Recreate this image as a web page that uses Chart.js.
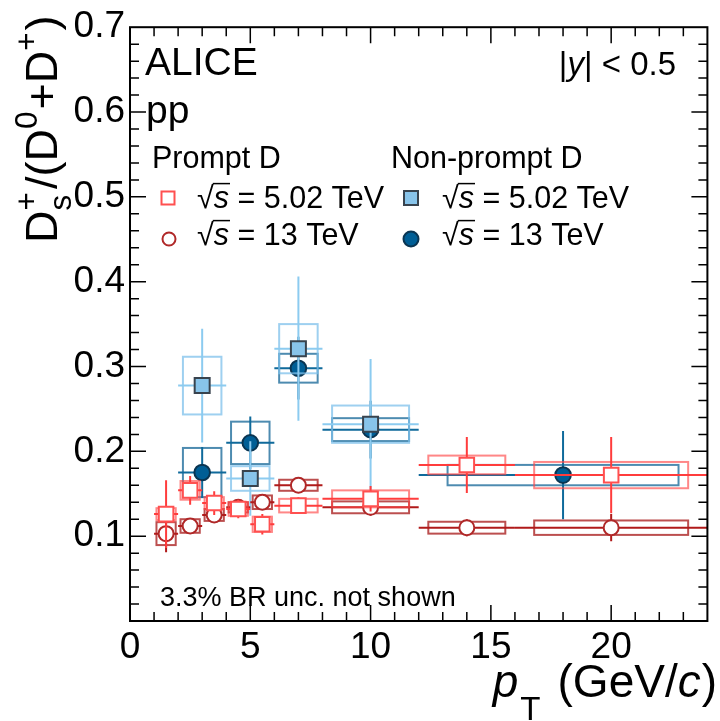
<!DOCTYPE html>
<html>
<head>
<meta charset="utf-8"/>
<title>Ds+/(D0+D+) vs pT</title>
<script src="https://cdn.jsdelivr.net/npm/chart.js@4.4.0/dist/chart.umd.min.js"></script>
<style>
  html, body { margin: 0; padding: 0; background: #fff; }
  #c { display: block; }
</style>
</head>
<body>
<canvas id="c" width="720" height="721"></canvas>
<script>
// pT bin edges (GeV/c)
const promptEdges    = [1, 2, 3, 4, 5, 6, 8, 12, 16, 24];
const nonpromptEdges = [2, 4, 6, 8, 12, 24];

// prompt D, sqrt(s) = 5.02 TeV
const prompt502      = [0.126, 0.154, 0.139, 0.132, 0.114, 0.136, 0.144, 0.184, 0.172];
const prompt502Stat  = [0.040, 0.017, 0.014, 0.011, 0.012, 0.010, 0.015, 0.033, 0.045];
const prompt502Syst  = [0.007, 0.011, 0.007, 0.008, 0.009, 0.008, 0.010, 0.011, 0.0155];

// prompt D, sqrt(s) = 13 TeV
const prompt13       = [0.103, 0.112, 0.125, 0.134, 0.140, 0.160, 0.134, 0.110, 0.110];
const prompt13Stat   = [0.022, 0.006, 0.008, 0.005, 0.006, 0.005, 0.010, 0.010, 0.016];
const prompt13Syst   = [0.0135, 0.008, 0.007, 0.006, 0.008, 0.0065, 0.007, 0.007, 0.0085];

// non-prompt D, sqrt(s) = 5.02 TeV (first four bins only)
const nonprompt502     = [0.2775, 0.168, 0.321, 0.232];
const nonprompt502Stat = [0.067, 0.044, 0.085, 0.077];
const nonprompt502Syst = [0.034, 0.0145, 0.029, 0.022];

// non-prompt D, sqrt(s) = 13 TeV
const nonprompt13     = [0.175, 0.210, 0.298, 0.2256, 0.172];
const nonprompt13Stat = [0.030, 0.031, 0.037, 0.034, 0.052];
const nonprompt13Syst = [0.029, 0.025, 0.017, 0.0135, 0.012];

const xTicks = [0, 5, 10, 15, 20];
const yTicks = [0.1, 0.2, 0.3, 0.4, 0.5, 0.6, 0.7];

const FONT = '"Liberation Sans", Arial, Helvetica, sans-serif';

const COL = {
  p502:  { stat: '#ff3c3c', box: 'rgba(255,70,70,0.65)',  edge: '#ff5050', fill: '#ffffff' },
  p13:   { stat: '#b01a1a', box: 'rgba(165,20,20,0.75)',  edge: '#b02828', fill: '#ffffff' },
  np502: { stat: '#8ccbf0', box: 'rgba(125,192,235,0.75)', edge: '#38434e', fill: '#88c4ea' },
  np13:  { stat: '#0f6a9b', box: 'rgba(18,100,150,0.75)',  edge: '#0a3552', fill: '#005e95' }
};

function series(edges, vals, stat, syst, col, style, radius) {
  const lo = [], hi = [], pts = [];
  vals.forEach((v, i) => {
    lo.push(edges[i]); hi.push(edges[i + 1]);
    pts.push({ x: (edges[i] + edges[i + 1]) / 2, y: v });
  });
  return {
    data: pts,
    unc: { lo, hi, stat, syst, col },
    pointStyle: style,
    pointRadius: radius,
    pointHoverRadius: radius,
    backgroundColor: col.fill,
    borderColor: col.edge,
    borderWidth: 2,
    showLine: false
  };
}

// systematic boxes (80% of bin width) and statistical bars, drawn under each dataset's markers
const errorBoxes = {
  id: 'errorBoxes',
  beforeDatasetDraw(chart, args) {
    const ds = chart.data.datasets[args.index];
    const u = ds.unc;
    const { ctx, chartArea: a, scales: { x, y } } = chart;
    ctx.save();
    ctx.beginPath();
    ctx.rect(a.left, a.top, a.right - a.left, a.bottom - a.top);
    ctx.clip();
    ctx.lineWidth = 2;
    ds.data.forEach((p, i) => {
      const hw = 0.4 * (u.hi[i] - u.lo[i]);
      const bx0 = x.getPixelForValue(p.x - hw), bx1 = x.getPixelForValue(p.x + hw);
      const by0 = y.getPixelForValue(p.y + u.syst[i]), by1 = y.getPixelForValue(p.y - u.syst[i]);
      ctx.strokeStyle = u.col.box;
      ctx.strokeRect(bx0, by0, bx1 - bx0, by1 - by0);
      const px = x.getPixelForValue(p.x), py = y.getPixelForValue(p.y);
      ctx.strokeStyle = u.col.stat;
      ctx.beginPath();
      ctx.moveTo(x.getPixelForValue(u.lo[i]), py);
      ctx.lineTo(x.getPixelForValue(u.hi[i]), py);
      ctx.moveTo(px, y.getPixelForValue(p.y + u.stat[i]));
      ctx.lineTo(px, y.getPixelForValue(p.y - u.stat[i]));
      ctx.stroke();
    });
    ctx.restore();
  }
};

// draw a run of text pieces (sub/superscripts, italics) left to right
function drawRuns(ctx, runs, x0, y0, base) {
  let x = x0, stackW = 0;
  runs.forEach(r => {
    if (r.gap) { x += r.gap; return; }
    const size = (r.scale || 1) * base;
    ctx.font = (r.italic ? 'italic ' : '') + size + 'px ' + FONT;
    const w = ctx.measureText(r.t).width;
    ctx.fillText(r.t, x, y0 + (r.dy || 0) * base);
    if (r.stack) { stackW = w; return; }
    x += Math.max(w, stackW);
    stackW = 0;
  });
  return x;
}

function sqrtS(ctx, x, y, size, rest) {
  ctx.font = size + 'px ' + FONT;
  ctx.fillText('\u221A', x, y);
  const rw = ctx.measureText('\u221A').width;
  ctx.font = 'italic ' + size + 'px ' + FONT;
  const sw = ctx.measureText('s').width;
  ctx.fillText('s', x + rw, y);
  ctx.lineWidth = 1.5;
  ctx.beginPath();
  ctx.moveTo(x + rw - 1, y - 0.80 * size);
  ctx.lineTo(x + rw + sw + 1, y - 0.80 * size);
  ctx.stroke();
  ctx.font = size + 'px ' + FONT;
  ctx.fillText(rest, x + rw + sw, y);
}

function marker(ctx, kind, x, y, r, col) {
  ctx.save();
  ctx.lineWidth = 2;
  ctx.fillStyle = col.fill;
  ctx.strokeStyle = col.edge;
  ctx.beginPath();
  if (kind === 'rect') ctx.rect(x - r, y - r, 2 * r, 2 * r);
  else ctx.arc(x, y, r, 0, 2 * Math.PI);
  ctx.fill();
  ctx.stroke();
  ctx.restore();
}

const frameAndText = {
  id: 'frameAndText',
  afterDraw(chart) {
    const { ctx, chartArea: a, scales: { x, y } } = chart;
    ctx.save();
    ctx.strokeStyle = '#000';
    ctx.fillStyle = '#000';
    ctx.lineWidth = 2;
    ctx.strokeRect(a.left, a.top, a.right - a.left, a.bottom - a.top);

    // ticks on all four sides
    ctx.lineWidth = 1.5;
    ctx.beginPath();
    for (let v = 1; v < 24; v++) {
      const px = x.getPixelForValue(v);
      const len = v % 5 === 0 ? 16 : 9;
      ctx.moveTo(px, a.bottom); ctx.lineTo(px, a.bottom - len);
      ctx.moveTo(px, a.top); ctx.lineTo(px, a.top + len);
    }
    for (let k = 1; k < 35; k++) {
      const py = y.getPixelForValue(k * 0.02);
      const len = k % 5 === 0 ? 16 : 9;
      ctx.moveTo(a.left, py); ctx.lineTo(a.left + len, py);
      ctx.moveTo(a.right, py); ctx.lineTo(a.right - len, py);
    }
    ctx.stroke();

    ctx.textBaseline = 'alphabetic';
    ctx.textAlign = 'left';

    ctx.font = '39px ' + FONT;
    ctx.fillText('ALICE', 145, 75);
    ctx.fillText('pp', 146, 123);

    // |y| < 0.5
    const rs = 33;
    ctx.font = rs + 'px ' + FONT;
    const w1 = ctx.measureText('|').width;
    ctx.font = 'italic ' + rs + 'px ' + FONT;
    const w2 = ctx.measureText('y').width;
    ctx.font = rs + 'px ' + FONT;
    const w3 = ctx.measureText('| < 0.5').width;
    let tx = 676 - (w1 + w2 + w3);
    drawRuns(ctx, [{ t: '|' }, { t: 'y', italic: true }, { t: '| < 0.5' }], tx, 75, rs);

    // legend
    const lf = 30.5;
    ctx.font = lf + 'px ' + FONT;
    ctx.fillText('Prompt D', 152, 168);
    ctx.fillText('Non-prompt D', 391, 168);
    sqrtS(ctx, 197, 208, lf, ' = 5.02 TeV');
    sqrtS(ctx, 197, 245, lf, ' = 13 TeV');
    sqrtS(ctx, 442, 208, lf, ' = 5.02 TeV');
    sqrtS(ctx, 442, 245, lf, ' = 13 TeV');
    marker(ctx, 'rect', 168, 198, 6.5, COL.p502);
    marker(ctx, 'circle', 169, 239, 6.5, COL.p13);
    marker(ctx, 'rect', 411, 198, 7, COL.np502);
    marker(ctx, 'circle', 411, 239, 7.5, COL.np13);

    ctx.font = '27px ' + FONT;
    ctx.fillText('3.3% BR unc. not shown', 160, 606);

    // x-axis title: p_T (GeV/c), right aligned to the frame
    const xf = 46;
    const xRuns = [
      { t: 'p', italic: true }, { gap: 2 }, { t: 'T', scale: 0.72, dy: 0.5 }, { gap: 17 },
      { t: '(GeV/' }, { t: 'c', italic: true }, { gap: 1 }, { t: ')' }
    ];
    ctx.save();
    ctx.globalAlpha = 0;
    const xw = drawRuns(ctx, xRuns, 0, 0, xf);
    ctx.restore();
    drawRuns(ctx, xRuns, 717 - xw, 697, xf);

    // y-axis title: Ds+/(D0+D+), rotated
    const yf = 45;
    const yRuns = [
      { t: 'D' }, { t: 's', scale: 0.7, dy: 0.3, stack: true }, { t: '+', scale: 0.7, dy: -0.45 }, { gap: 3 },
      { t: '/(' }, { t: 'D' }, { t: '0', scale: 0.7, dy: -0.45 }, { gap: 2 }, { t: '+' },
      { t: 'D' }, { t: '+', scale: 0.7, dy: -0.45 }, { gap: 2 }, { t: ')' }
    ];
    ctx.translate(57, 243);
    ctx.rotate(-Math.PI / 2);
    drawRuns(ctx, yRuns, 0, 0, yf);
    ctx.restore();
  }
};

const datasets = [
  series(promptEdges, prompt502, prompt502Stat, prompt502Syst, COL.p502, 'rect', 10.3),
  series(promptEdges, prompt13, prompt13Stat, prompt13Syst, COL.p13, 'circle', 7.5),
  series(nonpromptEdges, nonprompt502, nonprompt502Stat, nonprompt502Syst, COL.np502, 'rect', 10.6),
  series(nonpromptEdges, nonprompt13, nonprompt13Stat, nonprompt13Syst, COL.np13, 'circle', 7.8)
];

new Chart(document.getElementById('c'), {
  type: 'scatter',
  data: { datasets },
  options: {
    responsive: false,
    animation: false,
    devicePixelRatio: 1,
    layout: { padding: { top: 23, right: 2, left: 0, bottom: 0 } },
    plugins: { legend: { display: false }, tooltip: { enabled: false } },
    scales: {
      x: {
        type: 'linear', min: 0, max: 24,
        grid: { display: false, drawTicks: false },
        border: { display: false },
        afterBuildTicks: s => { s.ticks = xTicks.map(v => ({ value: v })); },
        afterFit: s => { s.height = 100; },
        ticks: {
          font: { family: FONT, size: 37 }, color: '#000', padding: 5,
          maxRotation: 0, autoSkip: false,
          callback: v => String(v)
        }
      },
      y: {
        type: 'linear', min: 0, max: 0.7,
        grid: { display: false, drawTicks: false },
        border: { display: false },
        afterBuildTicks: s => { s.ticks = yTicks.map(v => ({ value: v })); },
        afterFit: s => { s.width = 130; },
        ticks: {
          font: { family: FONT, size: 37 }, color: '#000', padding: 5,
          autoSkip: false,
          callback: v => v.toFixed(1)
        }
      }
    }
  },
  plugins: [errorBoxes, frameAndText]
});
</script>
</body>
</html>
